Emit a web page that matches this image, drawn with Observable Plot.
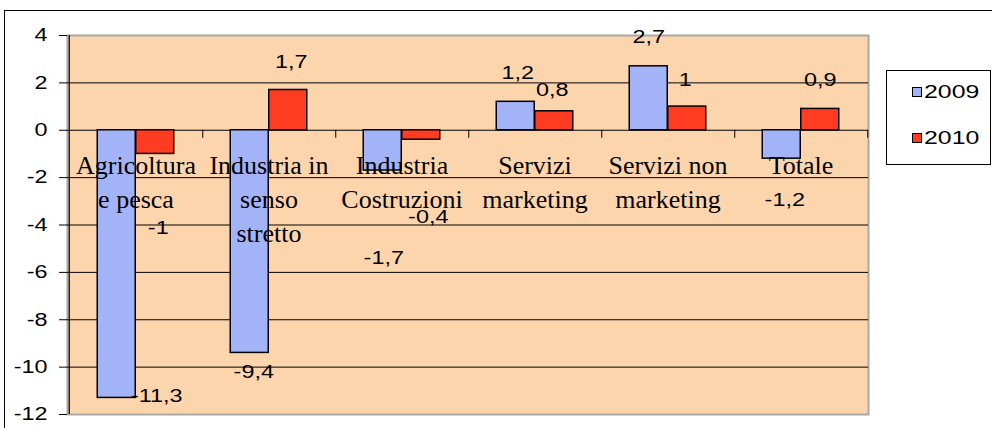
<!DOCTYPE html>
<html><head><meta charset="utf-8">
<script src="https://cdn.jsdelivr.net/npm/d3@7"></script>
<script src="https://cdn.jsdelivr.net/npm/@observablehq/plot@0.6"></script>
<style>
body{margin:0;background:#fff;width:992px;height:428px;overflow:hidden;position:relative;}
#frame{position:absolute;left:4px;top:10px;width:1100px;height:600px;border:1.5px solid #000;}
#chart{position:absolute;left:0;top:0;}
#legend{position:absolute;left:886px;top:70px;width:103px;height:93px;border:1px solid #000;background:#fff;font-family:"Liberation Sans",Arial,sans-serif;font-size:18px;}
.item{position:absolute;left:25px;display:flex;align-items:center;height:20px;}
.sw{width:8px;height:8px;border:1px solid #000;margin-right:2px}
.lab{display:inline-block;transform:scaleX(1.38);transform-origin:left center;line-height:20px}
</style></head>
<body><div id="frame"></div><div id="chart"></div><div id="legend"></div>
<script>
const categories = ["Agricoltura\ne pesca", "Industria in\nsenso\nstretto", "Industria\nCostruzioni", "Servizi\nmarketing", "Servizi non\nmarketing", "Totale"];
const seriesNames = ["2009", "2010"];
const values2009 = [-11.3, -9.4, -1.7, 1.2, 2.7, -1.2];
const values2010 = [-1, 1.7, -0.4, 0.8, 1, 0.9];
const yTicks = [-12, -10, -8, -6, -4, -2, 0, 2, 4];

// label nudges in px [dx, dy] relative to the bar end (layout only)
const nudge2009 = [[40, -2], [4, 19], [1, 88], [2, -29], [0, -29], [3, 42]];
const nudge2010 = [[3, 74], [3, -28], [7, 78], [-2, -21], [-2, -26], [0, -29]];

const colors = {"2009": "#A3B3F8", "2010": "#FF3B22"};
const W = 992, H = 428, mL = 67, mR = 124, mT = 35, mB = 14;
const bw = (W - mL - mR) / categories.length;
const barW = 38.5;
const sans = "Liberation Sans, Arial, sans-serif";
const fmt = v => String(v).replace(".", ",");

const rows = [];
categories.forEach((c, i) => {
  rows.push({category: c, series: "2009", value: values2009[i], nudge: nudge2009[i], side: -1});
  rows.push({category: c, series: "2010", value: values2010[i], nudge: nudge2010[i], side: 1});
});

const labelMarks = rows.map(r => Plot.text([r], {
  x: "category", y: "value", text: d => fmt(d.value),
  dx: r.side * barW / 2 + r.nudge[0], dy: r.nudge[1],
  fontFamily: sans, fontSize: 18, fill: "black", lineAnchor: "middle", textAnchor: "middle"
}));

const chart = Plot.plot({
  width: W, height: H,
  marginLeft: mL, marginRight: mR, marginTop: mT, marginBottom: mB,
  x: {domain: categories, padding: 0, axis: null},
  y: {domain: [-12, 4], axis: null},
  style: {background: "transparent", overflow: "visible", color: "black"},
  marks: [
    Plot.frame({fill: "#FDD5AC", stroke: "#A8A8A8", strokeWidth: 2}),
    Plot.ruleY(yTicks.filter(t => t > -12 && t < 4), {stroke: "black", strokeWidth: 1}),
    Plot.barY(rows.filter(r => r.series === "2009"), {
      x: "category", y: "value", fill: colors["2009"], stroke: "black", strokeWidth: 1.5,
      insetLeft: bw / 2 - barW, insetRight: bw / 2
    }),
    Plot.barY(rows.filter(r => r.series === "2010"), {
      x: "category", y: "value", fill: colors["2010"], stroke: "black", strokeWidth: 1.5,
      insetLeft: bw / 2, insetRight: bw / 2 - barW
    }),
    Plot.ruleX(categories, {x: d => d, y1: () => 0, y2: () => 0, dx: bw / 2, insetBottom: -8, stroke: "black", strokeWidth: 1}),
    Plot.ruleX([categories[0]], {x: d => d, dx: -bw / 2, stroke: "black", strokeWidth: 1.2}),
    Plot.axisY(yTicks, {anchor: "left", tickSize: 8, tickPadding: 12, tickFormat: d => String(d), fontSize: 18, fontFamily: sans, label: null, stroke: "black", fill: "black"}),
    Plot.text(categories, {
      x: d => d, y: () => 0, text: d => d, lineAnchor: "top", dy: 20, lineHeight: 1.3,
      fontFamily: "Liberation Serif, Times New Roman, serif", fontSize: 26, fill: "black", textAnchor: "middle"
    }),
    ...labelMarks
  ]
});
document.getElementById("chart").appendChild(chart);

// horizontally widen the sans-serif labels to match the stretched original
chart.querySelectorAll("text").forEach(t => {
  const g = t.closest("[font-family]");
  const ff = g ? g.getAttribute("font-family") : "";
  if (ff && ff.indexOf("Serif") >= 0) return;
  const L = t.getComputedTextLength();
  if (L > 0) { t.setAttribute("textLength", L * 1.3); t.setAttribute("lengthAdjust", "spacingAndGlyphs"); }
});

const legend = document.getElementById("legend");
seriesNames.forEach((s, i) => {
  const it = document.createElement("div");
  it.className = "item";
  it.style.top = (i === 0 ? 11 : 57) + "px";
  const sw = document.createElement("span");
  sw.className = "sw"; sw.style.background = colors[s];
  const lab = document.createElement("span");
  lab.className = "lab"; lab.textContent = s;
  it.appendChild(sw); it.appendChild(lab);
  legend.appendChild(it);
});
</script>
</body></html>
